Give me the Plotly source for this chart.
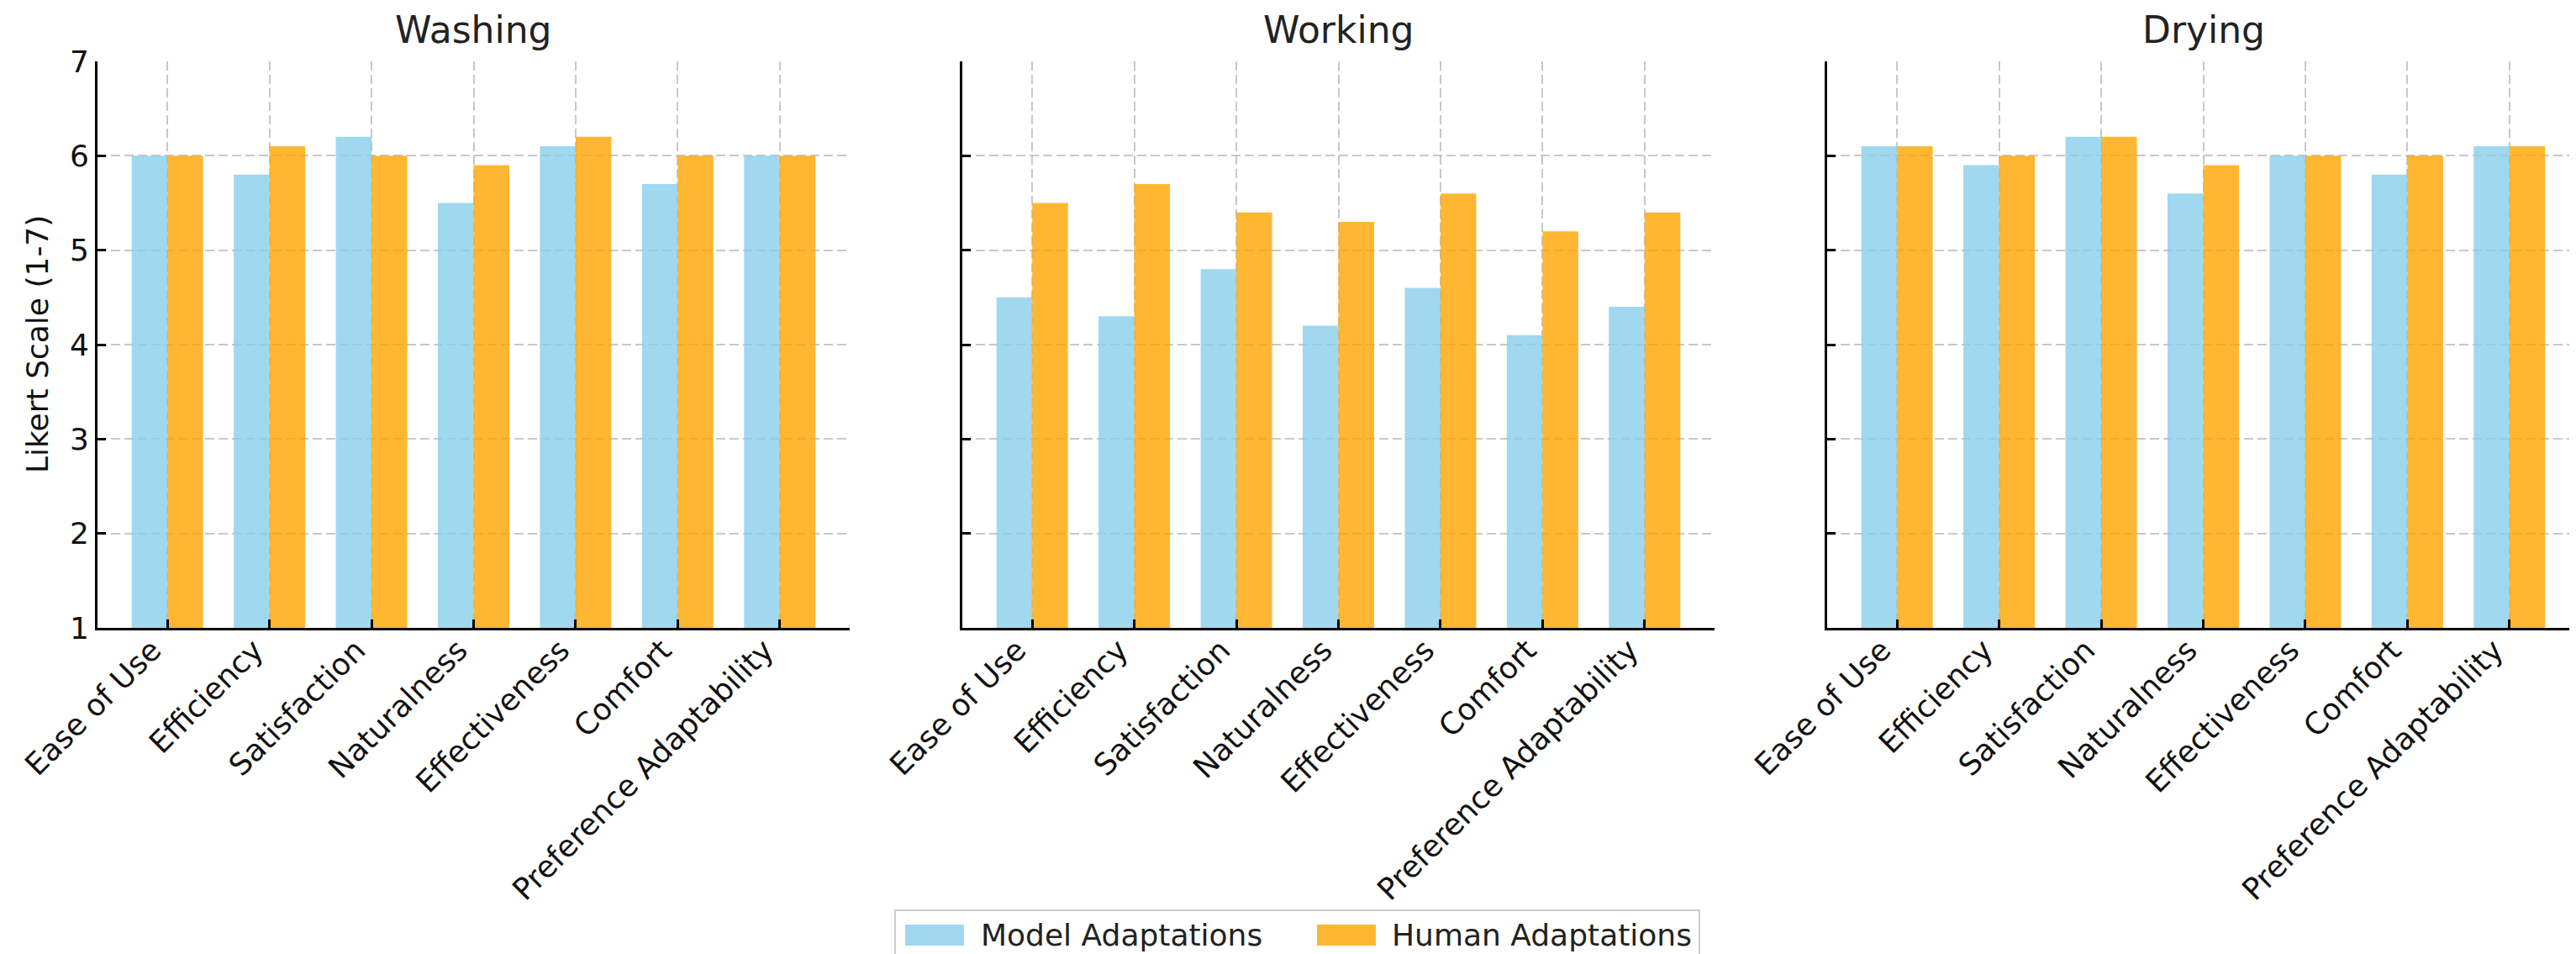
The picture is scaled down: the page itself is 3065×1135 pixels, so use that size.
import plotly.graph_objects as go

categories = ["Ease of Use", "Efficiency", "Satisfaction", "Naturalness",
              "Effectiveness", "Comfort", "Preference Adaptability"]
panels = ["Washing", "Working", "Drying"]
series_names = ["Model Adaptations", "Human Adaptations"]

washing_model = [6.0, 5.8, 6.2, 5.5, 6.1, 5.7, 6.0]
washing_human = [6.0, 6.1, 6.0, 5.9, 6.2, 6.0, 6.0]
working_model = [4.5, 4.3, 4.8, 4.2, 4.6, 4.1, 4.4]
working_human = [5.5, 5.7, 5.4, 5.3, 5.6, 5.2, 5.4]
drying_model = [6.1, 5.9, 6.2, 5.6, 6.0, 5.8, 6.1]
drying_human = [6.1, 6.0, 6.2, 5.9, 6.0, 6.0, 6.1]

model_values = [washing_model, working_model, drying_model]
human_values = [washing_human, working_human, drying_human]

y_ticks = [1, 2, 3, 4, 5, 6, 7]

MODEL_COLOR = "rgba(135,206,235,0.8)"
HUMAN_COLOR = "rgba(255,165,0,0.8)"
FONT = "DejaVu Sans"
W, H = 3065, 1135

x_domains = [[108 / W, 1003 / W], [1137 / W, 2032 / W], [2166 / W, 3061 / W]]
y_domain = [1 - 739 / H, 1 - 65 / H]

fig = go.Figure()
for i, name in enumerate(panels):
    xa = "x" if i == 0 else f"x{i+1}"
    ya = "y" if i == 0 else f"y{i+1}"
    fig.add_trace(go.Bar(x=categories, y=model_values[i], name=series_names[0],
                         marker=dict(color=MODEL_COLOR, line=dict(width=0)),
                         xaxis=xa, yaxis=ya, showlegend=False, base=0))
    fig.add_trace(go.Bar(x=categories, y=human_values[i], name=series_names[1],
                         marker=dict(color=HUMAN_COLOR, line=dict(width=0)),
                         xaxis=xa, yaxis=ya, showlegend=False, base=0))

axis_common = dict(
    showline=True, linecolor="black", linewidth=3,
    ticks="inside", ticklen=10, tickwidth=3, tickcolor="black",
    showgrid=True, gridcolor="rgba(176,176,176,0.7)", gridwidth=2,
    griddash="11px,5px", zeroline=False, layer="above traces",
    tickfont=dict(family=FONT, size=36, color="#111"),
)

layout = dict(
    width=W, height=H,
    margin=dict(l=0, r=0, t=0, b=0, autoexpand=False),
    paper_bgcolor="white", plot_bgcolor="white",
    barmode="group", bargap=0.3, bargroupgap=0.0,
    font=dict(family=FONT, size=36, color="#111"),
    showlegend=False,
)

annotations = []
for i, name in enumerate(panels):
    xk = "xaxis" if i == 0 else f"xaxis{i+1}"
    yk = "yaxis" if i == 0 else f"yaxis{i+1}"
    ya = "y" if i == 0 else f"y{i+1}"
    layout[xk] = dict(axis_common, domain=x_domains[i], anchor=ya,
                      type="category", range=[-0.685, 6.685],
                      tickangle=-45, categoryorder="array", categoryarray=categories,
                      ticklabelshift=-18, ticklabelstandoff=-12)
    layout[yk] = dict(axis_common, domain=y_domain,
                      anchor="x" if i == 0 else f"x{i+1}",
                      range=[1, 7], tickvals=y_ticks,
                      showticklabels=(i == 0))
    annotations.append(dict(text=name, xref="paper", yref="paper",
                            x=(x_domains[i][0] + x_domains[i][1]) / 2, xanchor="center",
                            y=1 - 55 / H, yanchor="bottom", showarrow=False,
                            font=dict(family=FONT, size=44, color="#222")))

annotations.append(dict(text="Likert Scale (1-7)", xref="paper", yref="paper",
                        x=36 / W, xanchor="center", y=(y_domain[0] + y_domain[1]) / 2,
                        yanchor="middle", textangle=-90, showarrow=False,
                        font=dict(family=FONT, size=36, color="#111")))

# legend (drawn as a framed box with swatches and text labels)
legend_colors = [MODEL_COLOR, HUMAN_COLOR]
patch_x = [1069, 1559]
text_x = [1157, 1646]
shapes = [dict(type="rect", xref="paper", yref="paper",
               x0=1057 / W, x1=2014 / W, y0=1 - 1145 / H, y1=1 - 1075 / H,
               line=dict(color="#cccccc", width=2), fillcolor="white", layer="above")]
for k in range(2):
    shapes.append(dict(type="rect", xref="paper", yref="paper",
                       x0=patch_x[k] / W, x1=(patch_x[k] + 70) / W,
                       y0=1 - 1117 / H, y1=1 - 1092 / H,
                       line=dict(width=0), fillcolor=legend_colors[k], layer="above"))
    annotations.append(dict(text=series_names[k], xref="paper", yref="paper",
                            x=text_x[k] / W, xanchor="left",
                            y=1 - 1104 / H, yanchor="middle", showarrow=False,
                            font=dict(family=FONT, size=36, color="#222")))

layout["annotations"] = annotations
layout["shapes"] = shapes

fig.update_layout(**layout)
fig.write_html("out.html")
